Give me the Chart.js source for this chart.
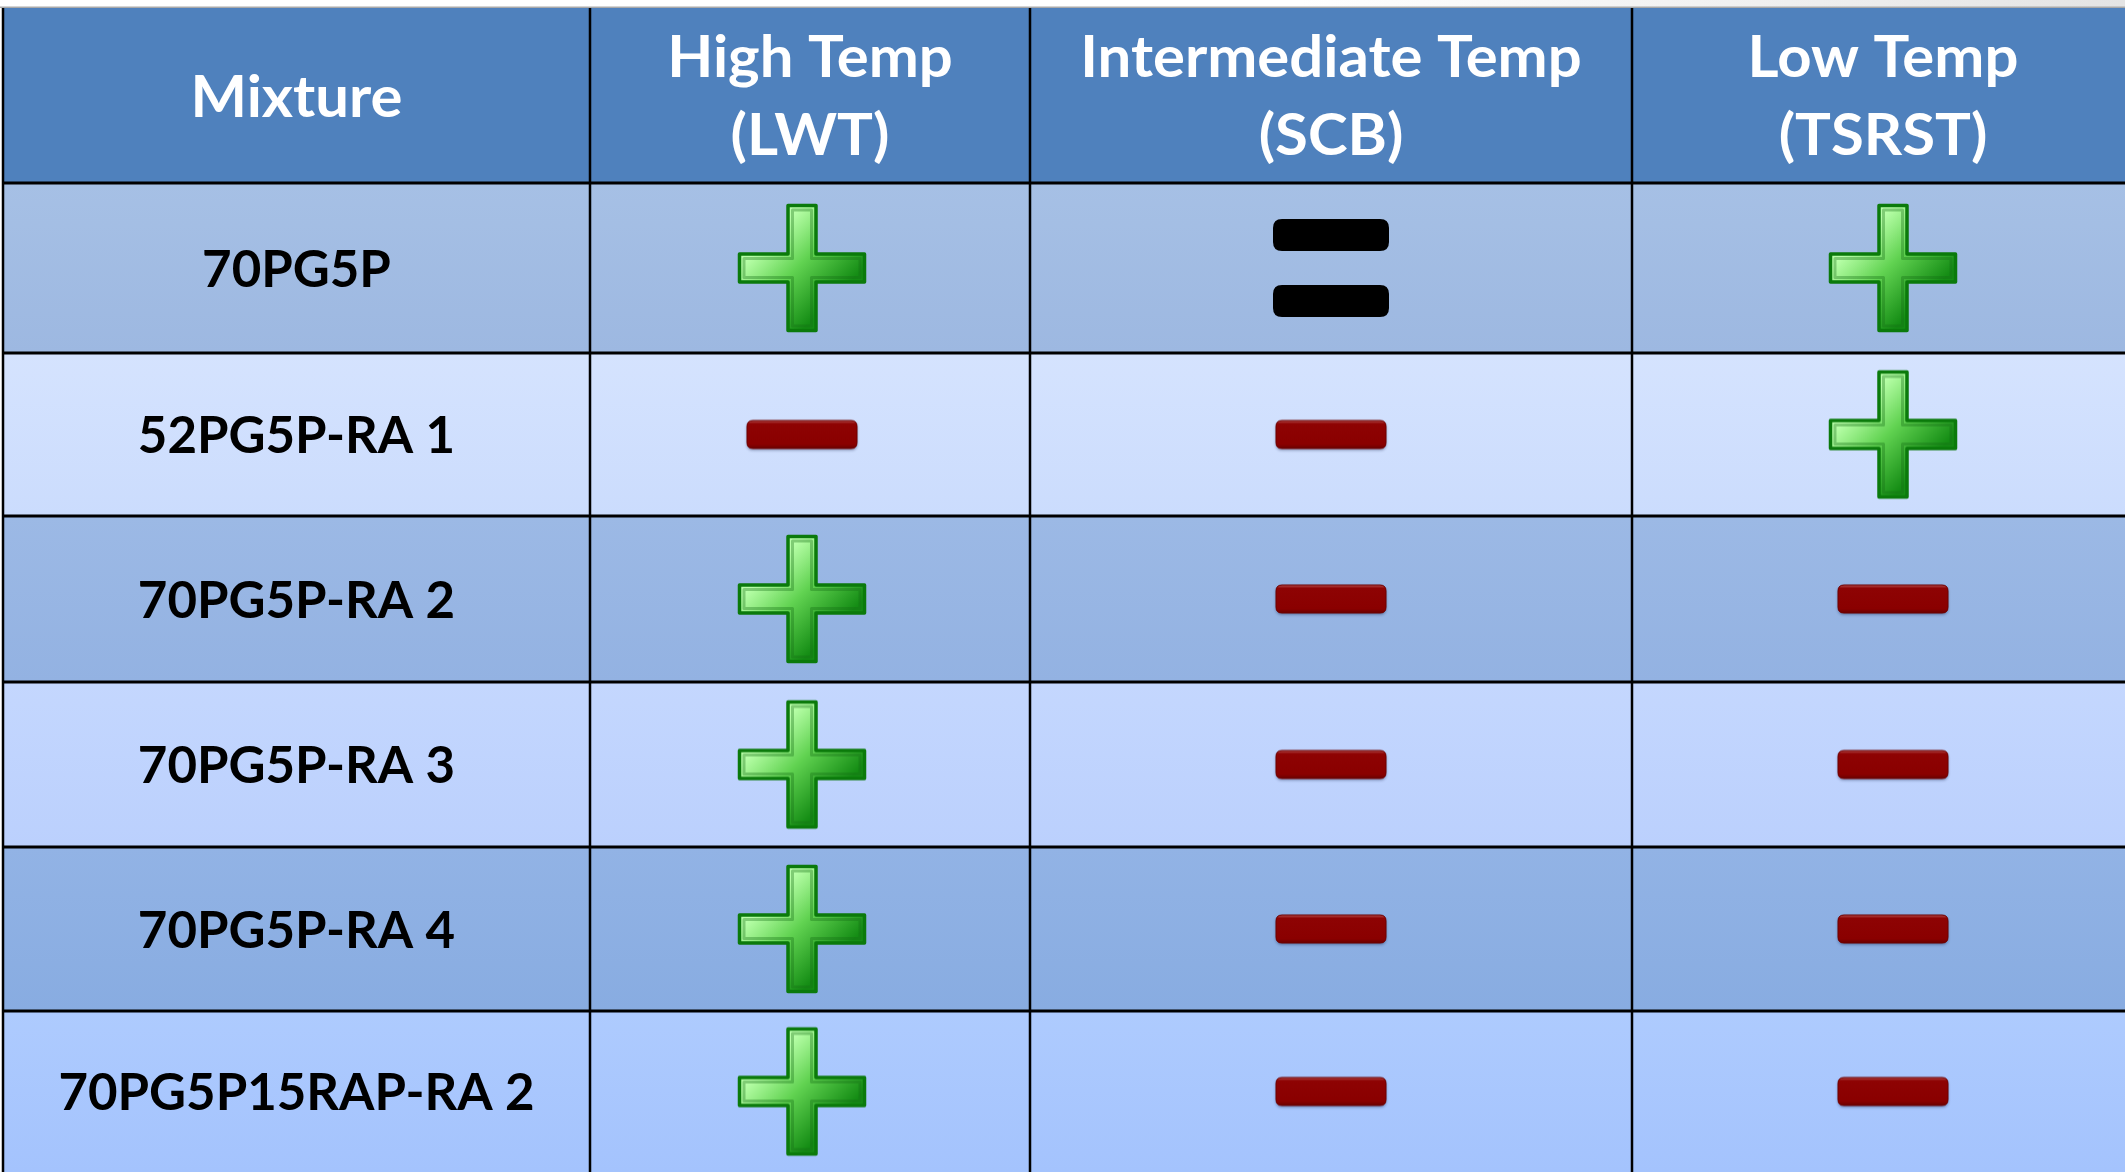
<!DOCTYPE html>
<html>
<head>
<meta charset="utf-8">
<script src="https://cdn.jsdelivr.net/npm/chart.js@4.4.1/dist/chart.umd.min.js"></script>
<style>
  html, body { margin: 0; padding: 0; background: #ffffff; overflow: hidden; }
  #wrap { width: 2125px; height: 1172px; position: relative; }
</style>
</head>
<body>
<div id="wrap"><canvas id="c" width="2125" height="1172"></canvas></div>
<script>
// ---- table content ----
const mixtures = ['70PG5P', '52PG5P-RA 1', '70PG5P-RA 2', '70PG5P-RA 3', '70PG5P-RA 4', '70PG5P15RAP-RA 2'];
const firstHeader = 'Mixture';
const testHeaders = [['High Temp', '(LWT)'], ['Intermediate Temp', '(SCB)'], ['Low Temp', '(TSRST)']];
// '+' better, '-' worse, '=' equivalent
const lwt   = ['+', '-', '+', '+', '+', '+'];
const scb   = ['=', '-', '-', '-', '-', '-'];
const tsrst = ['+', '+', '-', '-', '-', '-'];
const ratings = [lwt, scb, tsrst];

// ---- layout (table units == canvas pixels) ----
const W = 2125, H = 1172;
const colEdges = [3, 590, 1030, 1632, 2134];
const rowEdges = [8, 183, 353, 516, 682, 847, 1011, 1172];
const iconNudge = [-8, 0, 10];           // slight horizontal placement of symbols per test column
const rowFill = [
  ['#a6c0e5', '#9db8e1'],
  ['#d5e3fe', '#cbdcfd'],
  ['#9cb9e5', '#93b2e2'],
  ['#c4d7fe', '#bbd0fd'],
  ['#92b3e5', '#88ace1'],
  ['#aecbfe', '#a4c3fd']
];
const headerFill = '#4f81bd';
const BODY_FONT = 'bold 52px Lato';
const HEAD_FONT = 'bold 57px Lato';
const BODY_SX = 0.98;   // horizontal squeeze of body text
const HEAD_SX = 1.05;   // horizontal stretch of header text
const CAP = 37;         // cap height for vertical centring

const colCenter = c => (colEdges[c] + colEdges[c + 1]) / 2;
const rowCenter = r => (rowEdges[r + 1] + rowEdges[r + 2]) / 2;

// ---- symbol glyphs ----
function makePlus() {
  const S = 136, c = document.createElement('canvas');
  c.width = c.height = S;
  const g = c.getContext('2d');
  const m = S / 2, h = 62.5, a = 14;
  const pts = [[-a,-h],[a,-h],[a,-a],[h,-a],[h,a],[a,a],[a,h],[-a,h],[-a,a],[-h,a],[-h,-a],[-a,-a]];
  g.beginPath();
  pts.forEach((p, i) => i ? g.lineTo(m + p[0], m + p[1]) : g.moveTo(m + p[0], m + p[1]));
  g.closePath();
  const gr = g.createLinearGradient(m - h / 2, m - h / 2, m + h / 2, m + h / 2);
  gr.addColorStop(0, '#b8ffa8');
  gr.addColorStop(0.45, '#62d352');
  gr.addColorStop(1, '#148c14');
  g.fillStyle = gr;
  g.fill();
  g.lineJoin = 'round';
  g.lineWidth = 3.5;
  g.strokeStyle = '#0b7a0b';
  g.stroke();
  // faint inner bevel
  g.save();
  g.clip();
  g.lineWidth = 3;
  g.strokeStyle = 'rgba(20,110,20,0.35)';
  g.beginPath();
  const b = 4.5;
  const ip = [[-a+b,-h+b],[a-b,-h+b],[a-b,-a+b],[h-b,-a+b],[h-b,a-b],[a-b,a-b],[a-b,h-b],[-a+b,h-b],[-a+b,a-b],[-h+b,a-b],[-h+b,-a+b],[-a+b,-a+b]];
  ip.forEach((p, i) => i ? g.lineTo(m + p[0], m + p[1]) : g.moveTo(m + p[0], m + p[1]));
  g.closePath();
  g.stroke();
  g.restore();
  return c;
}

function roundRect(g, x, y, w, h, r) {
  g.beginPath();
  g.moveTo(x + r, y);
  g.lineTo(x + w - r, y);
  g.quadraticCurveTo(x + w, y, x + w, y + r);
  g.lineTo(x + w, y + h - r);
  g.quadraticCurveTo(x + w, y + h, x + w - r, y + h);
  g.lineTo(x + r, y + h);
  g.quadraticCurveTo(x, y + h, x, y + h - r);
  g.lineTo(x, y + r);
  g.quadraticCurveTo(x, y, x + r, y);
  g.closePath();
}

function makeMinus() {
  const cw = 122, ch = 42, w = 110, h = 28;
  const c = document.createElement('canvas');
  c.width = cw; c.height = ch;
  const g = c.getContext('2d');
  const x = (cw - w) / 2, y = (ch - h) / 2;
  g.save();
  g.shadowColor = 'rgba(10,20,60,0.45)';
  g.shadowBlur = 3;
  g.shadowOffsetY = 1.5;
  roundRect(g, x, y, w, h, 6);
  g.fillStyle = '#8b0000';
  g.fill();
  g.restore();
  const gr = g.createLinearGradient(0, y, 0, y + h);
  gr.addColorStop(0, '#b24a4a');
  gr.addColorStop(0.12, '#8e0303');
  gr.addColorStop(0.85, '#8a0000');
  gr.addColorStop(1, '#6a0000');
  roundRect(g, x, y, w, h, 6);
  g.fillStyle = gr;
  g.fill();
  g.lineWidth = 1;
  g.strokeStyle = '#6e0000';
  g.stroke();
  return c;
}

function makeEquals() {
  const cw = 122, ch = 104, w = 116, h = 32, gap = 34;
  const c = document.createElement('canvas');
  c.width = cw; c.height = ch;
  const g = c.getContext('2d');
  const x = (cw - w) / 2, y0 = (ch - (2 * h + gap)) / 2;
  g.fillStyle = '#000000';
  roundRect(g, x, y0, w, h, 9); g.fill();
  roundRect(g, x, y0 + h + gap, w, h, 9); g.fill();
  return c;
}

const glyphs = { '+': makePlus(), '-': makeMinus(), '=': makeEquals() };

// ---- table frame, fills and text ----
function drawText(g, txt, x, y, color, sx) {
  g.save();
  g.translate(x, y);
  g.scale(sx, 1);
  g.fillStyle = color;
  g.fillText(txt, 0, 0);
  g.restore();
}

const tablePlugin = {
  id: 'tableFrame',
  beforeDatasetsDraw(chart) {
    const g = chart.ctx;
    const xs = chart.scales.x, ys = chart.scales.y;
    const px = v => xs.getPixelForValue(v);
    const py = v => ys.getPixelForValue(v);
    g.save();
    // top strip
    const strip = g.createLinearGradient(px(1300), 0, px(W), 0);
    strip.addColorStop(0, '#ffffff');
    strip.addColorStop(1, '#e4e4e4');
    g.fillStyle = strip;
    g.fillRect(0, 0, W, py(rowEdges[0]));
    g.fillStyle = '#a9a9a9';
    g.fillRect(0, py(rowEdges[0]) - 1.5, W, 1.5);

    const left = px(colEdges[0]), right = px(colEdges[colEdges.length - 1]);
    // header band
    g.fillStyle = headerFill;
    g.fillRect(left, py(rowEdges[0]), right - left, py(rowEdges[1]) - py(rowEdges[0]));
    // body rows
    for (let r = 0; r < mixtures.length; r++) {
      const top = py(rowEdges[r + 1]), bot = py(rowEdges[r + 2]);
      const gr = g.createLinearGradient(0, top, 0, bot);
      gr.addColorStop(0, rowFill[r][0]);
      gr.addColorStop(1, rowFill[r][1]);
      g.fillStyle = gr;
      g.fillRect(left, top, right - left, bot - top);
    }
    // rules
    g.strokeStyle = '#000000';
    g.lineWidth = 3;
    for (let r = 1; r < rowEdges.length - 1; r++) {
      const y = py(rowEdges[r]);
      g.beginPath(); g.moveTo(left, y); g.lineTo(right, y); g.stroke();
    }
    g.lineWidth = 2.5;
    for (let c = 0; c < colEdges.length - 1; c++) {
      const x = px(colEdges[c]);
      g.beginPath(); g.moveTo(x, py(rowEdges[0])); g.lineTo(x, H); g.stroke();
    }

    g.textAlign = 'center';
    g.textBaseline = 'alphabetic';
    // header text
    g.font = HEAD_FONT;
    const hMid = (py(rowEdges[0]) + py(rowEdges[1])) / 2;
    drawText(g, firstHeader, px(colCenter(0)), hMid + CAP / 2 + 3, '#ffffff', HEAD_SX);
    testHeaders.forEach((lines, i) => {
      const cx = px(colCenter(i + 1));
      drawText(g, lines[0], cx, hMid - 39 + CAP / 2 + 2, '#ffffff', HEAD_SX);
      drawText(g, lines[1], cx, hMid + 39 + CAP / 2 + 2, '#ffffff', HEAD_SX);
    });
    // mixture names
    g.font = BODY_FONT;
    mixtures.forEach((m, r) => {
      drawText(g, m, px(colCenter(0)), py(rowCenter(r)) + CAP / 2, '#000000', BODY_SX);
    });
    g.restore();
  }
};

// ---- one scatter series per test, each point drawn with its rating symbol ----
const datasets = ratings.map((vals, t) => ({
  label: testHeaders[t].join(' '),
  data: vals.map((v, r) => ({ x: colCenter(t + 1) + iconNudge[t], y: rowCenter(r), v })),
  pointStyle: ctx => glyphs[ctx.raw ? ctx.raw.v : '+'],
  pointRadius: 10,
  showLine: false
}));

new Chart(document.getElementById('c'), {
  type: 'scatter',
  data: { datasets },
  options: {
    responsive: false,
    animation: false,
    events: [],
    layout: { padding: 0, autoPadding: false },
    scales: {
      x: { type: 'linear', min: 0, max: W, display: false },
      y: { type: 'linear', min: 0, max: H, reverse: true, display: false }
    },
    plugins: { legend: { display: false }, tooltip: { enabled: false } }
  },
  plugins: [tablePlugin]
});
</script>
</body>
</html>
